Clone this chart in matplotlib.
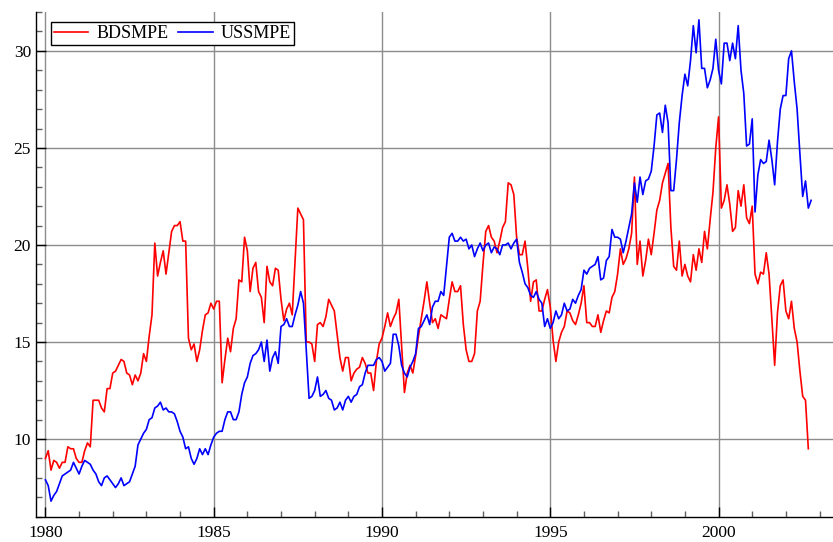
import numpy as np
import matplotlib
matplotlib.use("Agg")
import matplotlib.pyplot as plt
from matplotlib.ticker import MultipleLocator

# monthly data, starting January 1980
start_year = 1980

bdsmpe = [
    9.0, 9.4, 8.4, 8.9, 8.8, 8.5, 8.8, 8.8, 9.6, 9.5, 9.5, 9.0,          # 1980
    8.8, 8.8, 9.4, 9.8, 9.6, 12.0, 12.0, 12.0, 11.6, 11.4, 12.6, 12.6,   # 1981
    13.4, 13.5, 13.8, 14.1, 14.0, 13.4, 13.3, 12.8, 13.3, 13.0, 13.4, 14.4,  # 1982
    14.0, 15.3, 16.4, 20.1, 18.4, 19.1, 19.7, 18.5, 19.6, 20.7, 21.0, 21.0,  # 1983
    21.2, 20.2, 20.2, 15.2, 14.6, 14.9, 14.0, 14.6, 15.6, 16.4, 16.5, 17.0,  # 1984
    16.7, 17.1, 17.1, 12.9, 14.1, 15.2, 14.5, 15.7, 16.2, 18.2, 18.1, 20.4,  # 1985
    19.7, 17.6, 18.8, 19.1, 17.6, 17.3, 16.0, 18.9, 18.1, 17.9, 18.8, 18.7,  # 1986
    17.2, 16.1, 16.7, 17.0, 16.4, 19.2, 21.9, 21.6, 21.3, 15.0, 15.0, 14.9,  # 1987
    14.0, 15.9, 16.0, 15.8, 16.3, 17.2, 16.9, 16.6, 15.4, 14.2, 13.5, 14.2,  # 1988
    14.2, 13.0, 13.4, 13.6, 13.7, 14.2, 13.9, 13.4, 13.4, 12.5, 14.0, 14.9,  # 1989
    15.2, 15.8, 16.5, 15.8, 16.2, 16.5, 17.2, 14.8, 12.4, 13.4, 13.8, 13.4,  # 1990
    14.3, 15.3, 16.2, 17.1, 18.1, 17.0, 16.0, 16.2, 15.7, 16.4, 16.3, 16.2,  # 1991
    17.2, 18.1, 17.6, 17.6, 17.9, 15.9, 14.6, 14.0, 14.0, 14.4, 16.6, 17.1,  # 1992
    19.0, 20.7, 21.0, 20.4, 20.2, 19.6, 20.2, 20.9, 21.2, 23.2, 23.1, 22.6,  # 1993
    20.4, 19.5, 19.5, 20.2, 18.8, 17.1, 18.1, 18.2, 16.6, 16.6, 17.2, 17.7,  # 1994
    16.8, 15.1, 14.0, 15.0, 15.5, 15.8, 16.6, 16.5, 16.1, 15.9, 16.4, 17.0,  # 1995
    17.9, 16.0, 16.0, 15.8, 15.8, 16.4, 15.5, 16.1, 16.6, 16.5, 17.3, 17.6,  # 1996
    18.5, 19.8, 19.0, 19.3, 19.8, 20.6, 23.5, 19.0, 20.2, 18.4, 19.2, 20.3,  # 1997
    19.5, 20.6, 21.8, 22.3, 23.2, 23.7, 24.2, 20.9, 18.9, 18.7, 20.2, 18.4,  # 1998
    19.0, 18.4, 18.1, 19.5, 18.7, 19.8, 19.1, 20.7, 19.8, 21.3, 22.7, 25.0,  # 1999
    26.6, 21.9, 22.3, 23.1, 22.1, 20.7, 20.9, 22.8, 22.0, 23.1, 21.4, 21.1,  # 2000
    22.0, 18.5, 18.0, 18.6, 18.5, 19.6, 18.5, 16.2, 13.8, 16.5, 17.9, 18.2,  # 2001
    16.6, 16.2, 17.1, 15.7, 15.0, 13.5, 12.2, 12.0, 9.5,                     # 2002
]

ussmpe = [
    7.9, 7.6, 6.8, 7.1, 7.3, 7.7, 8.1, 8.2, 8.3, 8.4, 8.8, 8.5,          # 1980
    8.2, 8.6, 8.9, 8.8, 8.7, 8.4, 8.2, 7.8, 7.6, 8.0, 8.1, 7.9,          # 1981
    7.7, 7.5, 7.7, 8.0, 7.6, 7.7, 7.8, 8.2, 8.6, 9.7, 10.0, 10.3,        # 1982
    10.5, 11.0, 11.1, 11.6, 11.7, 11.9, 11.5, 11.6, 11.4, 11.4, 11.3, 10.9,  # 1983
    10.4, 10.1, 9.5, 9.6, 9.0, 8.7, 9.0, 9.5, 9.2, 9.5, 9.2, 9.7,        # 1984
    10.1, 10.3, 10.4, 10.4, 11.0, 11.4, 11.4, 11.0, 11.0, 11.4, 12.3, 12.9,  # 1985
    13.2, 13.9, 14.3, 14.4, 14.6, 15.0, 14.0, 15.1, 13.5, 14.2, 14.5, 13.9,  # 1986
    15.8, 15.9, 16.2, 15.8, 15.8, 16.4, 16.9, 17.6, 17.0, 14.6, 12.1, 12.2,  # 1987
    12.5, 13.2, 12.2, 12.3, 12.5, 12.1, 12.0, 11.5, 11.6, 11.9, 11.5, 12.0,  # 1988
    12.2, 11.9, 12.2, 12.3, 12.7, 12.8, 13.4, 13.8, 13.8, 13.8, 14.1, 14.2,  # 1989
    14.0, 13.5, 13.7, 13.9, 15.4, 15.4, 14.8, 13.8, 13.4, 13.2, 13.7, 14.0,  # 1990
    14.4, 15.7, 15.8, 16.1, 16.4, 15.9, 16.8, 17.1, 17.1, 17.6, 17.4, 18.9,  # 1991
    20.4, 20.6, 20.2, 20.2, 20.4, 20.2, 20.3, 19.8, 20.0, 19.4, 19.8, 20.1,  # 1992
    19.7, 20.0, 20.1, 19.6, 19.9, 19.8, 19.5, 20.0, 20.0, 20.1, 19.8, 20.1,  # 1993
    20.3, 19.1, 18.6, 18.0, 17.8, 17.4, 17.3, 17.6, 17.2, 17.0, 15.8, 16.2,  # 1994
    15.7, 16.0, 16.6, 16.2, 16.4, 17.0, 16.6, 16.7, 17.2, 17.0, 17.4, 17.7,  # 1995
    18.7, 18.5, 18.8, 18.9, 19.0, 19.4, 18.2, 18.3, 19.2, 19.4, 20.8, 20.4,  # 1996
    20.4, 20.3, 19.6, 20.2, 20.9, 21.6, 23.2, 22.2, 23.5, 22.6, 23.3, 23.4,  # 1997
    23.8, 25.1, 26.7, 26.8, 25.8, 27.2, 26.3, 22.8, 22.8, 24.4, 26.3, 27.7,  # 1998
    28.8, 28.2, 29.5, 31.3, 29.9, 31.6, 29.1, 29.1, 28.1, 28.5, 29.1, 30.6,  # 1999
    29.0, 28.3, 30.4, 30.4, 29.5, 30.4, 29.6, 31.3, 29.0, 27.8, 25.1, 25.2,  # 2000
    26.5, 21.7, 23.6, 24.4, 24.2, 24.3, 25.4, 24.4, 23.1, 25.3, 27.0, 27.7,  # 2001
    27.7, 29.6, 30.0, 28.4, 27.0, 24.7, 22.5, 23.3, 21.9, 22.3,              # 2002
]

plt.rcParams['font.family'] = ['Liberation Serif', 'DejaVu Serif']

fig = plt.figure(figsize=(8.33, 5.42), dpi=100)
ax = fig.add_axes([0.0432, 0.0467, 0.9568, 0.931])

t_bds = start_year + np.arange(len(bdsmpe)) / 12
t_us = start_year + np.arange(len(ussmpe)) / 12

ax.plot(t_bds, bdsmpe, color='#ff0000', lw=1.2, label='BDSMPE')
ax.plot(t_us, ussmpe, color='#0000ff', lw=1.2, label='USSMPE')

ax.set_xlim(1979.72, 2003.4)
ax.set_ylim(6, 32)

ax.xaxis.set_major_locator(MultipleLocator(5))
ax.xaxis.set_minor_locator(MultipleLocator(1))
ax.yaxis.set_major_locator(MultipleLocator(5))
ax.yaxis.set_minor_locator(MultipleLocator(1))

ax.grid(True, which='major', color='#8c8c8c', lw=1.0)
ax.set_axisbelow(True)

for s in ['top', 'right']:
    ax.spines[s].set_visible(False)
for s in ['left', 'bottom']:
    ax.spines[s].set_linewidth(1.0)

ax.tick_params(which='major', direction='in', length=7, width=1.0, labelsize=12.5)
ax.tick_params(which='minor', direction='in', length=4, width=1.0, color='#606060')
ax.tick_params(axis='x', which='major', pad=6)

leg = ax.legend(loc='upper left', bbox_to_anchor=(0.019, 0.98), borderaxespad=0,
                fontsize=13, frameon=True, fancybox=False, edgecolor='black',
                framealpha=1, ncol=2, handlelength=1.9, columnspacing=0.55,
                handletextpad=0.45, borderpad=0.15)
leg.get_frame().set_linewidth(1.0)

fig.savefig('out.png', dpi=100)
